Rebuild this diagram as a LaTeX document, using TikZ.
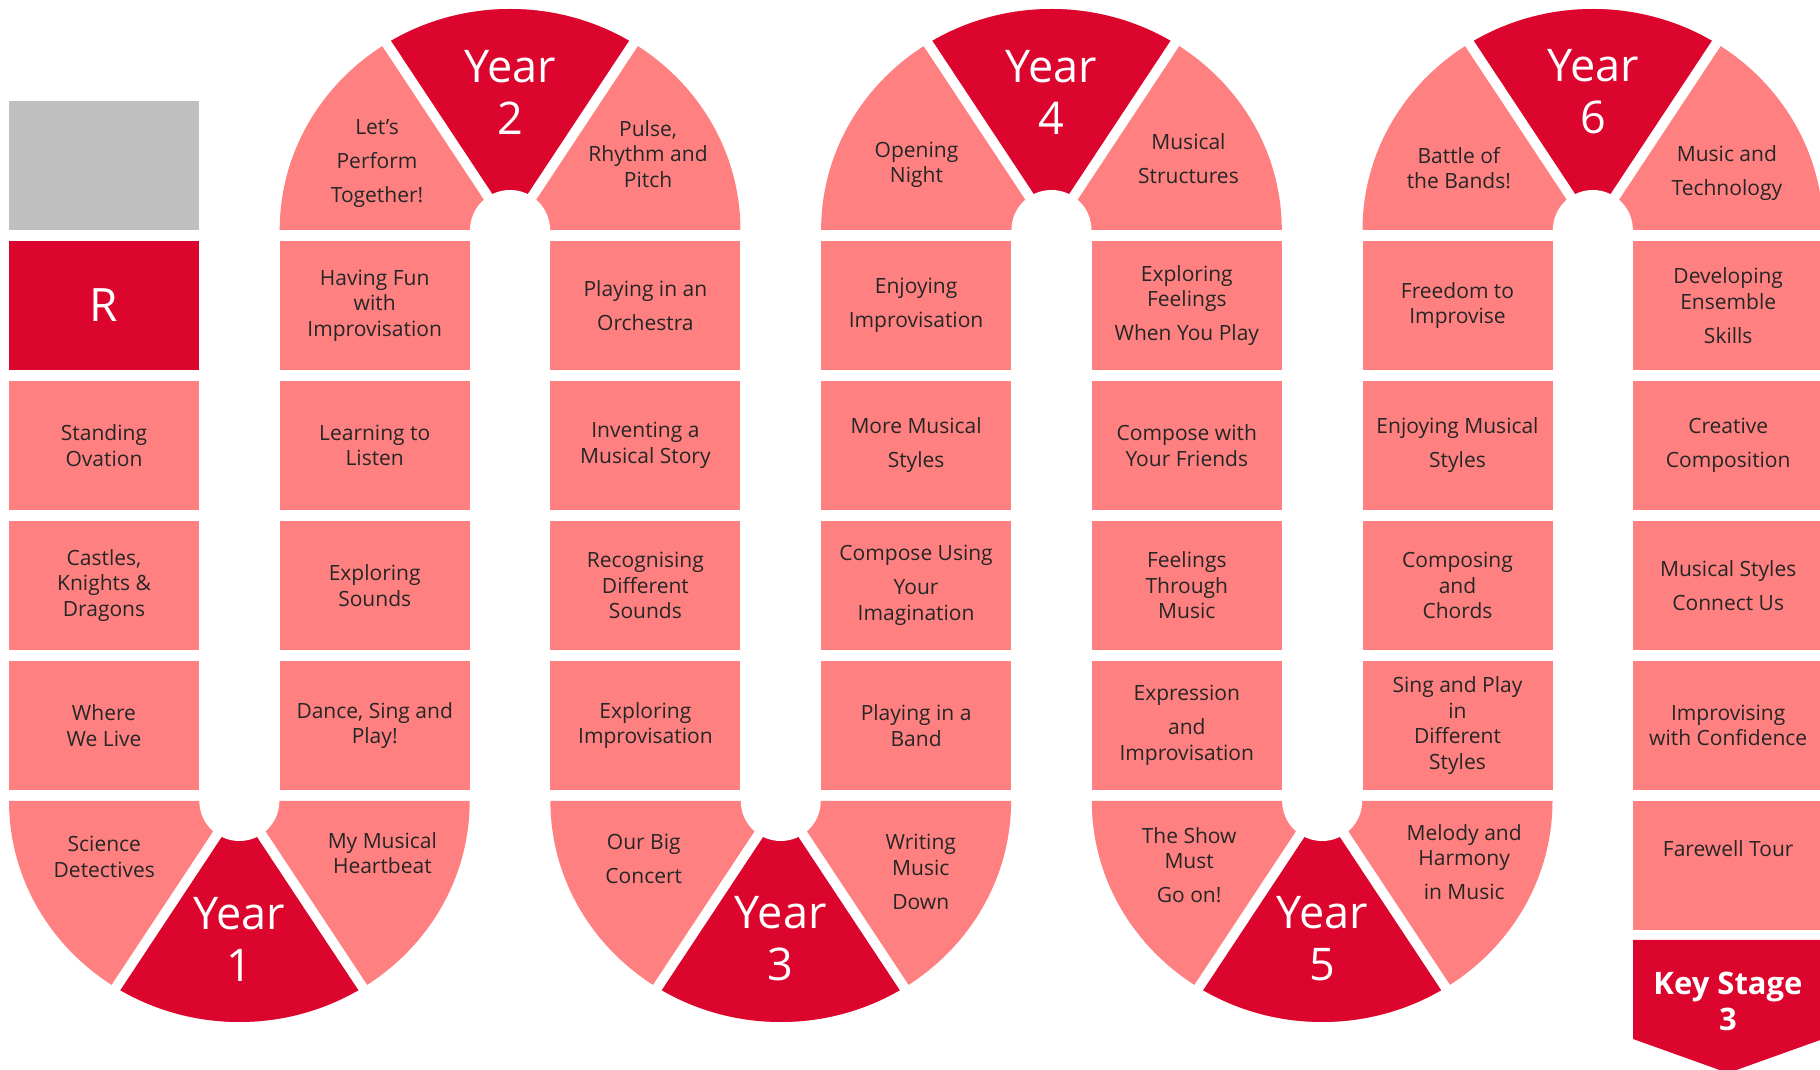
\documentclass[tikz,border=0pt]{standalone}
\usepackage{fontspec}
\setmainfont{Open Sans}

\definecolor{lessonpink}{HTML}{FF8080}
\definecolor{yearred}{HTML}{DC052D}
\definecolor{spare}{HTML}{BFBFBF}

\def\colsep{270.7}
\def\rowsep{140}

\begin{document}
\begin{tikzpicture}[
    x=1pt, y=1pt,
    font=\fontsize{21}{25.5}\selectfont,
    lesson/.style={fill=lessonpink, text=black!85, minimum width=190pt, minimum height=129pt, inner sep=0pt, align=center},
    year lesson/.style={lesson, fill=yearred, text=white, font=\fontsize{46}{52}\selectfont},
    topic/.style={text=black!85, align=center, inner sep=0pt},
    year label/.style={text=white, align=center, inner sep=0pt, font=\fontsize{45}{52}\selectfont}
]

    % Keep the page to the board
    \useasboundingbox (0,0) rectangle (1820,1070);

    % Draw the U-turns with their year wedge
    \foreach \n/\c/\s in {1/0/-1, 2/1/1, 3/2/-1, 4/3/1, 5/4/-1, 6/5/1} {
        \pgfmathsetmacro\cx{239.35+\c*\colsep}
        \pgfmathsetmacro\cy{554.5+\s*285.5}
        \pgfmathsetmacro\anga{57.5*\s}
        \pgfmathsetmacro\angb{122.5*\s}
        \coordinate (U\n) at (\cx,\cy);
        \fill[lessonpink] ({\cx-230.35},\cy) -- ({\cx+230.35},\cy)
            arc[start angle=0, end angle=180*\s, x radius=230.35pt, y radius=221pt] -- cycle;
        \fill[yearred] (\cx,\cy) -- ++(\anga:230.35pt and 221pt)
            arc[start angle=\anga, end angle=\angb, x radius=230.35pt, y radius=221pt] -- cycle;
        \draw[white, line width=10pt] (\cx,\cy) -- ++(\anga:242pt and 233pt);
        \draw[white, line width=10pt] (\cx,\cy) -- ++(\angb:242pt and 233pt);
        \fill[white] (\cx,\cy) circle[radius=40pt];
        \node[year label] (Y\n) at (\cx, {\cy+\s*138}) {Year\\\n};
    }

    % Topics in the U-turns
    \node[topic] (U1-l) at ([xshift=-135pt, yshift=-56pt]U1) {Science\\Detectives};
    \node[topic] (U1-r) at ([xshift=143pt, yshift=-52pt]U1) {My Musical\\Heartbeat};
    \node[topic] (U2-l) at ([xshift=-133pt, yshift=66pt]U2) {Let’s\\[8.5pt]Perform\\[8.5pt]Together!};
    \node[topic] (U2-r) at ([xshift=138pt, yshift=76pt]U2) {Pulse,\\Rhythm and\\Pitch};
    \node[topic] (U3-l) at ([xshift=-137pt, yshift=-58pt]U3) {Our Big\\[8.5pt]Concert};
    \node[topic] (U3-r) at ([xshift=140pt, yshift=-71pt]U3) {Writing\\Music\\[8.5pt]Down};
    \node[topic] (U4-l) at ([xshift=-135pt, yshift=65pt]U4) {Opening\\Night};
    \node[topic] (U4-r) at ([xshift=137pt, yshift=71pt]U4) {Musical\\[8.5pt]Structures};
    \node[topic] (U5-l) at ([xshift=-133pt, yshift=-64pt]U5) {The Show\\Must\\[8.5pt]Go on!};
    \node[topic] (U5-r) at ([xshift=142pt, yshift=-61pt]U5) {Melody and\\Harmony\\[8.5pt]in Music};
    \node[topic] (U6-l) at ([xshift=-134pt, yshift=62pt]U6) {Battle of\\the Bands!};
    \node[topic] (U6-r) at ([xshift=134pt, yshift=57pt]U6) {Music and\\[8.5pt]Technology};

    % Draw the lesson squares
    \node[lesson, fill=spare] (C0-0) at (104, 904.5) {};
    \node[year lesson] (C0-1) at (104, 764.5) {R};
    \foreach \c/\r/\txt in {
        0/2/{Standing\\Ovation}, 0/3/{Castles,\\Knights \&\\Dragons}, 0/4/{Where\\We Live},
        1/1/{Having Fun\\with\\Improvisation}, 1/2/{Learning to\\Listen}, 1/3/{Exploring\\Sounds}, 1/4/{Dance, Sing and\\Play!},
        2/1/{Playing in an\\[8.5pt]Orchestra}, 2/2/{Inventing a\\Musical Story}, 2/3/{Recognising\\Different\\Sounds}, 2/4/{Exploring\\Improvisation},
        3/1/{Enjoying\\[8.5pt]Improvisation}, 3/2/{More Musical\\[8.5pt]Styles}, 3/3/{Compose Using\\[8.5pt]Your\\Imagination}, 3/4/{Playing in a\\Band},
        4/1/{Exploring\\Feelings\\[8.5pt]When You Play}, 4/2/{Compose with\\Your Friends}, 4/3/{Feelings\\Through\\Music}, 4/4/{Expression\\[8.5pt]and\\Improvisation},
        5/1/{Freedom to\\Improvise}, 5/2/{Enjoying Musical\\[8.5pt]Styles}, 5/3/{Composing\\and\\Chords}, 5/4/{Sing and Play\\in\\Different\\Styles},
        6/1/{Developing\\Ensemble\\[8.5pt]Skills}, 6/2/{Creative\\[8.5pt]Composition}, 6/3/{Musical Styles\\[8.5pt]Connect Us}, 6/4/{Improvising\\with Confidence}}
        \node[lesson] (C\c-\r) at ({104+\c*\colsep}, {904.5-\r*\rowsep}) {\txt};

    % Last square and the way out
    \node[lesson] (C6-5) at ({104+6*\colsep}, {904.5-5*\rowsep}) {};
    \node[topic] (farewell) at ([yshift=17pt]C6-5.center) {Farewell Tour};
    \fill[yearred] (1633,130) -- (1823,130) -- (1823,31) -- (1728,-3) -- (1633,31) -- cycle;
    \node[topic, text=white, font=\bfseries\fontsize{31}{36}\selectfont] (KS3) at (1728, 69) {Key Stage\\3};
\end{tikzpicture}
\end{document}
